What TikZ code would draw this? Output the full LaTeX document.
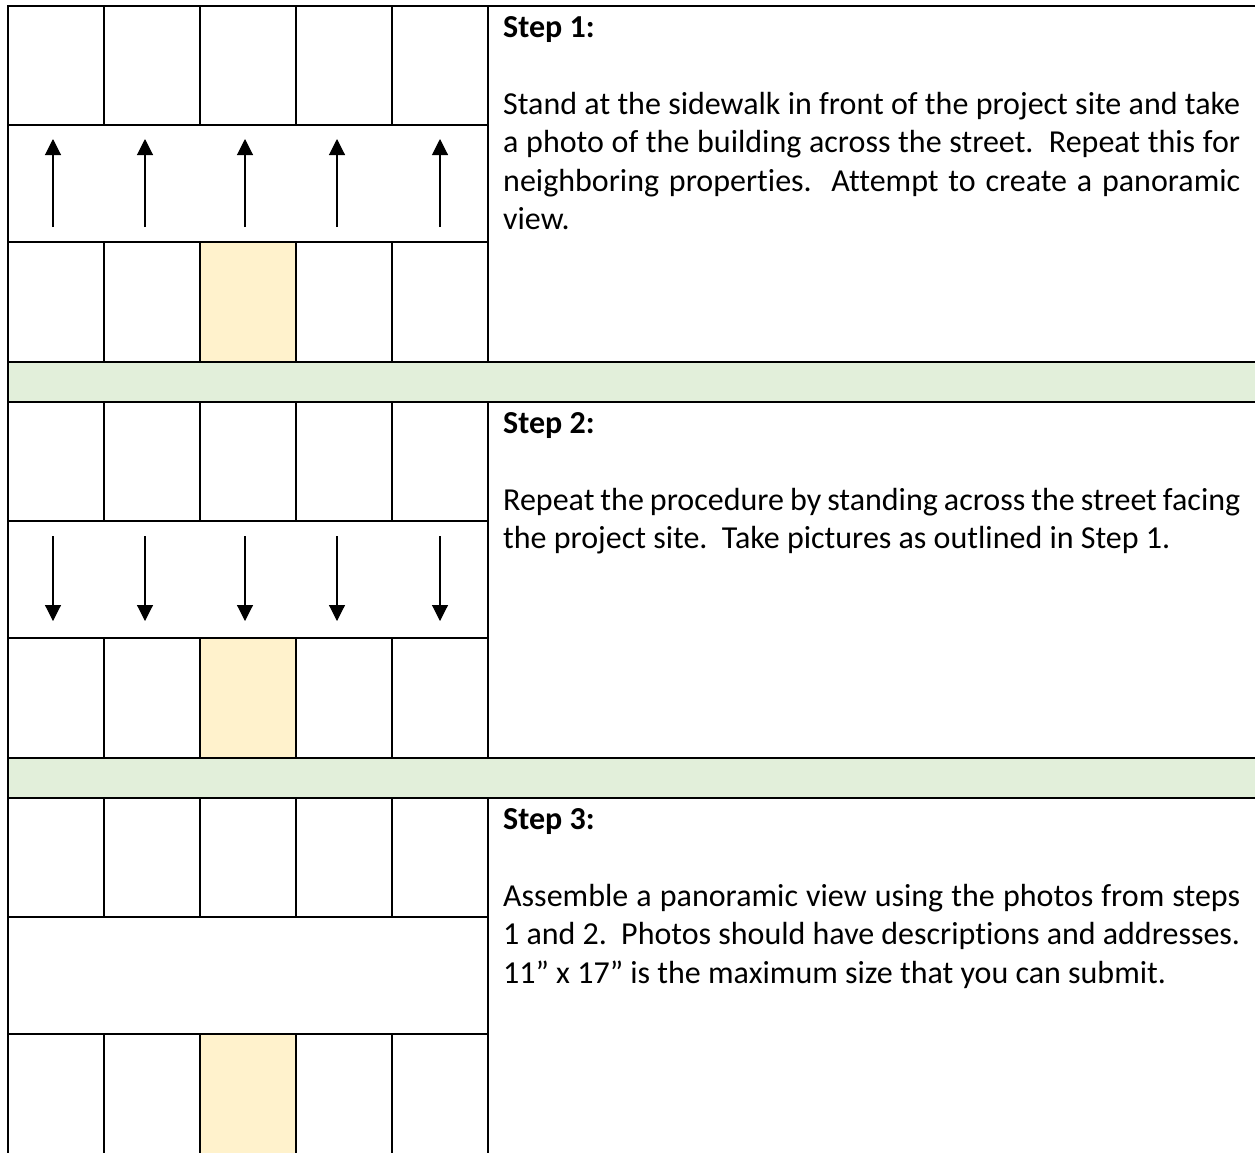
\documentclass[tikz,border=0pt]{standalone}
\usepackage{fontspec}
\setmainfont{Carlito}[Ligatures=NoCommon]
\usepackage{xcolor}
\usepackage{tikz}
\usetikzlibrary{arrows.meta}
\definecolor{sitefill}{HTML}{FFF2CC}
\definecolor{streetfill}{HTML}{E2EFDA}
\hyphenpenalty=10000
\tolerance=9999
\newcommand\stepfont{\fontsize{32}{38.5}\selectfont
  \spaceskip=.226em plus .2em minus .12em\relax}

\begin{document}
\begin{tikzpicture}[x=1pt, y=-1pt,
    grid/.style={line width=1.4pt, black, line cap=rect},
    site/.style={fill=sitefill},
    street/.style={fill=streetfill},
    view/.style={-{Triangle[width=16pt,length=16pt]}, line width=1.1pt},
    steptext/.style={anchor=north west, inner sep=0pt, text width=737pt,
      align=justify, font=\stepfont}
  ]
  \useasboundingbox (0,0) rectangle (1255,1152);
  \clip (0,0) rectangle (1255,1152);

  % --- Street bands between the steps ---
  \fill[street] (8,362) rectangle (1260,402);
  \fill[street] (8,758) rectangle (1260,798);

  % --- Blocks: buildings, street, project site ---
  \foreach \blk in {6,402,798} {
    \fill[site] (200,\blk+236) rectangle (296,\blk+356);
    \draw[grid] (8,\blk) -- (1260,\blk);
    \draw[grid] (8,\blk+119) -- (488,\blk+119);
    \draw[grid] (8,\blk+236) -- (488,\blk+236);
    \draw[grid] (8,\blk+356) -- (1260,\blk+356);
    \draw[grid] (488,\blk) -- (488,\blk+356);
    \foreach \x in {104,200,296,392} {
      \draw[grid] (\x,\blk) -- (\x,\blk+119);
      \draw[grid] (\x,\blk+236) -- (\x,\blk+356);
    }
  }
  \draw[grid] (8,6) -- (8,1160);

  % --- Camera directions ---
  \foreach \x [count=\i] in {53,145,245,337,440} {
    \coordinate (up\i-from) at (\x,227);
    \coordinate (up\i-to)   at (\x,139);
    \coordinate (dn\i-from) at (\x,536);
    \coordinate (dn\i-to)   at (\x,621);
    \draw[view] (up\i-from) -- (up\i-to);
    \draw[view] (dn\i-from) -- (dn\i-to);
  }

  % --- Step descriptions ---
  \node[steptext] (step1) at (503,16) {\textbf{Step 1:}\\ \mbox{}\\
    Stand at the sidewalk in front of the project site and take\linebreak
    a photo of the building across the street.\ \ Repeat this for\linebreak
    neighboring properties.\ \ Attempt to create a panoramic\linebreak
    view.};
  \node[steptext] (step2) at (503,412) {\textbf{Step 2:}\\ \mbox{}\\
    Repeat the procedure by standing across the street facing\linebreak
    the project site.\ \ Take pictures as outlined in Step 1.};
  \node[steptext] (step3) at (503,808) {\textbf{Step 3:}\\ \mbox{}\\
    Assemble a panoramic view using the photos from steps\linebreak
    1 and 2.\ \ Photos should have descriptions and addresses.\linebreak
    11” x 17” is the maximum size that you can submit.};
\end{tikzpicture}
\end{document}
